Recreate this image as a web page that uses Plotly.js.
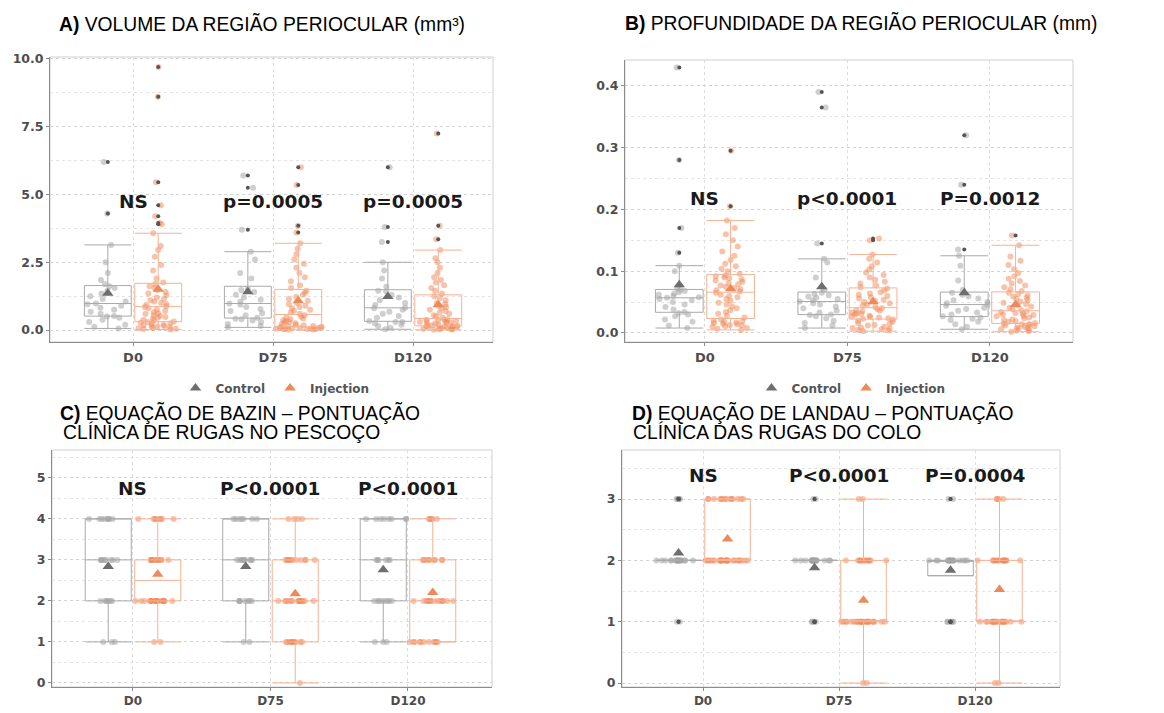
<!DOCTYPE html>
<html><head><meta charset="utf-8">
<script src="https://cdn.plot.ly/plotly-3.0.1.min.js"></script>
<style>html,body{margin:0;padding:0;background:#fff}</style>
</head><body><div id="chart" style="width:1164px;height:713px"></div>
<script>
const categories = ['D0','D75','D120'];
const groupNames = ['Control','Injection'];

// ---- Panel A: volume (mm³)
const volControlD0 = [0.06,0.12,0.2,0.3,0.38,0.45,0.5,0.52,0.6,0.68,0.75,0.82,0.9,0.95,0.98,1.05,1.15,1.25,1.35,1.45,1.55,1.62,1.7,1.85,2.1,2.5,3.14,4.3,6.2];
const volInjectionD0 = [0.02,0.04,0.05,0.07,0.08,0.1,0.12,0.14,0.15,0.18,0.2,0.22,0.25,0.27,0.3,
  0.32,0.35,0.38,0.42,0.45,0.48,0.52,0.55,0.6,0.62,0.66,0.7,0.75,0.8,0.85,
  0.88,0.92,0.95,1.0,1.05,1.1,1.15,1.2,1.28,1.35,1.4,1.48,1.55,1.62,1.7,
  1.75,1.9,2.2,2.4,2.7,2.95,3.1,3.57,3.9,3.95,4.2,4.6,5.45,8.6,9.7];
const volControlD75 = [0.1,0.15,0.22,0.3,0.35,0.4,0.42,0.45,0.55,0.62,0.7,0.78,0.85,0.93,0.98,1.05,1.12,1.2,1.3,1.4,1.48,1.52,1.9,2.1,2.6,2.89,3.7,5.25,5.7];
const volInjectionD75 = [0.01,0.02,0.03,0.03,0.04,0.05,0.05,0.06,0.07,0.08,0.08,0.09,0.1,0.1,0.11,
  0.13,0.15,0.18,0.2,0.22,0.25,0.28,0.3,0.33,0.36,0.4,0.43,0.47,0.5,0.55,
  0.6,0.65,0.7,0.75,0.8,0.85,0.9,0.95,1.0,1.08,1.15,1.22,1.3,1.38,1.45,
  1.55,1.65,1.8,1.95,2.1,2.3,2.45,2.6,2.8,3.0,3.2,3.6,3.85,5.35,6.0];
const volControlD120 = [0.03,0.08,0.15,0.2,0.25,0.3,0.3,0.33,0.45,0.52,0.6,0.68,0.75,0.8,0.82,0.92,1.0,1.1,1.2,1.3,1.42,1.45,1.6,1.9,2.2,2.5,3.25,3.8,6.0];
const volInjectionD120 = [0.01,0.02,0.03,0.04,0.05,0.06,0.07,0.08,0.09,0.1,0.11,0.12,0.13,0.14,0.15,
  0.16,0.18,0.2,0.22,0.24,0.26,0.28,0.3,0.32,0.34,0.35,0.36,0.37,0.38,0.4,
  0.45,0.5,0.55,0.6,0.65,0.7,0.75,0.8,0.85,0.9,0.95,1.0,1.1,1.18,1.25,
  1.35,1.45,1.55,1.65,1.75,1.85,1.95,2.1,2.3,2.5,2.65,2.95,3.35,3.85,7.25];

// ---- Panel B: depth (mm)
const depControlD0 = [0.008,0.012,0.018,0.022,0.027,0.03,0.032,0.034,0.038,0.042,0.046,0.05,0.053,0.055,0.057,0.058,0.06,0.062,0.064,0.066,0.068,0.07,0.072,0.1,0.109,0.13,0.17,0.28,0.43];
const depInjectionD0 = [0.005,0.007,0.008,0.01,0.011,0.012,0.013,0.014,0.015,0.016,0.017,0.018,0.019,0.02,0.022,
  0.025,0.028,0.031,0.034,0.037,0.04,0.043,0.046,0.049,0.052,0.055,0.058,0.06,0.062,0.065,
  0.067,0.069,0.071,0.073,0.075,0.077,0.079,0.081,0.083,0.085,0.087,0.089,0.09,0.092,0.093,
  0.096,0.1,0.104,0.108,0.112,0.118,0.125,0.132,0.14,0.15,0.16,0.17,0.182,0.205,0.295];
const depControlD75 = [0.008,0.012,0.016,0.02,0.024,0.027,0.029,0.03,0.033,0.036,0.04,0.043,0.046,0.048,0.051,0.053,0.055,0.057,0.059,0.061,0.063,0.065,0.07,0.09,0.114,0.12,0.145,0.365,0.39];
const depInjectionD75 = [0.003,0.004,0.005,0.006,0.007,0.008,0.009,0.01,0.012,0.013,0.015,0.016,0.018,0.02,0.022,
  0.023,0.024,0.025,0.026,0.027,0.028,0.03,0.031,0.032,0.033,0.035,0.036,0.037,0.039,0.04,
  0.042,0.044,0.046,0.048,0.05,0.052,0.054,0.056,0.058,0.06,0.062,0.064,0.066,0.069,0.072,
  0.074,0.077,0.08,0.083,0.086,0.09,0.094,0.098,0.103,0.108,0.114,0.12,0.127,0.15,0.153];
const depControlD120 = [0.006,0.01,0.014,0.018,0.021,0.023,0.025,0.027,0.03,0.033,0.036,0.039,0.041,0.044,0.046,0.048,0.05,0.053,0.056,0.059,0.062,0.065,0.07,0.085,0.109,0.125,0.135,0.24,0.32];
const depInjectionD120 = [0.002,0.003,0.004,0.005,0.006,0.007,0.008,0.009,0.01,0.011,0.012,0.013,0.014,0.014,0.015,
  0.016,0.018,0.019,0.021,0.022,0.024,0.025,0.027,0.028,0.029,0.03,0.031,0.032,0.034,0.035,
  0.037,0.039,0.041,0.043,0.045,0.047,0.049,0.051,0.053,0.055,0.057,0.059,0.061,0.063,0.065,
  0.068,0.071,0.074,0.077,0.08,0.084,0.088,0.092,0.097,0.103,0.11,0.117,0.124,0.142,0.158];

// ---- Panel C: Bazin neck wrinkle score
const bazControlD0 = [1,1,1,2,2,2,2,2,2,3,3,3,3,3,3,3,3,4,4,4,4,4,4,4,4];
const bazInjectionD0 = [1,1,2,2,2,2,2,2,2,2,2,2,2,2,2,2,2,2,2,2,3,3,3,3,3,3,3,3,3,3,3,3,4,4,4,4,4,4,4,4];
const bazControlD75 = [1,1,2,2,2,2,2,2,2,3,3,3,3,3,3,3,3,3,4,4,4,4,4,4,4];
const bazInjectionD75 = [0,1,1,1,1,1,1,1,1,1,1,2,2,2,2,2,2,2,2,2,2,2,2,2,2,3,3,3,3,3,3,3,3,3,3,3,4,4,4,4];
const bazControlD120 = [1,1,1,2,2,2,2,2,2,2,2,3,3,3,3,3,3,4,4,4,4,4,4,4,4];
const bazInjectionD120 = [1,1,1,1,1,1,1,1,1,1,1,2,2,2,2,2,2,2,2,2,2,2,2,2,2,3,3,3,3,3,3,3,3,3,4,4,4,4,4];

// ---- Panel D: Landau décolleté wrinkle score
const lanControlD0 = [1,1,2,2,2,2,2,2,2,2,2,2,2,2,2,2,2,2,2,2,3,3,3,3,3];
const lanInjectionD0 = [2,2,2,2,2,2,2,2,2,2,2,2,2,2,2,2,2,2,2,2,2,2,2,2,2,2,3,3,3,3,3,3,3,3,3,3,3,3,3,3];
const lanControlD75 = [1,1,1,1,1,2,2,2,2,2,2,2,2,2,2,2,2,2,2,2,2,2,2,3,3];
const lanInjectionD75 = [0,0,1,1,1,1,1,1,1,1,1,1,1,1,1,1,1,1,1,1,1,1,1,1,1,1,2,2,2,2,2,2,2,2,2,2,2,2,3,3];
const lanControlD120 = [1,1,1,1,1,1,2,2,2,2,2,2,2,2,2,2,2,2,2,2,2,2,2,3,3];
const lanInjectionD120 = [0,0,1,1,1,1,1,1,1,1,1,1,1,1,1,1,1,1,1,1,1,2,2,2,2,2,2,2,2,2,2,2,2,2,2,2,3,3,3,3];

// ---- labels
const pLabelsA = ['NS','p=0.0005','p=0.0005'];
const pLabelsB = ['NS','p<0.0001','P=0.0012'];
const pLabelsC = ['NS','P<0.0001','P<0.0001'];
const pLabelsD = ['NS','P<0.0001','P=0.0004'];
const titleA = ['<b>A)</b> VOLUME DA REGIÃO PERIOCULAR (mm³)'];
const titleB = ['<b>B)</b> PROFUNDIDADE DA REGIÃO PERIOCULAR (mm)'];
const titleC = ['<b>C)</b> EQUAÇÃO DE BAZIN – PONTUAÇÃO', 'CLÍNICA DE RUGAS NO PESCOÇO'];
const titleD = ['<b>D)</b> EQUAÇÃO DE LANDAU – PONTUAÇÃO', 'CLÍNICA DAS RUGAS DO COLO'];

// ---- styles
const ctrlPoint = 'rgba(160,160,160,0.5)';
const injPoint = 'rgba(242,135,88,0.5)';
const ctrlLine = '#a9a9a9';
const injLine = '#f5b294';
const ctrlMean = '#6e6e6e';
const injMean = '#ec8a5c';

function flat(arrs){
  const x=[], y=[];
  arrs.forEach((a,i)=>a.forEach(v=>{x.push(categories[i]); y.push(v);}));
  return {x,y};
}
const mean = a => a.reduce((s,v)=>s+v,0)/a.length;

const traces = [];
function panel(sfx, ctrl, inj, legendId){
  const xa = 'x'+sfx, ya = 'y'+sfx;
  const c = flat(ctrl), j = flat(inj);
  [[c,'c',ctrlPoint,0],[j,'i',injPoint,1]].forEach(([d,g,pc,k])=>{
    traces.push({type:'box', x:d.x, y:d.y, xaxis:xa, yaxis:ya, name:groupNames[k], offsetgroup:g,
      boxpoints:'all', jitter:1, pointpos:0, line:{width:0}, fillcolor:'rgba(0,0,0,0)',
      marker:{color:pc, size:6}, showlegend:false, hoverinfo:'y'});
  });
  [[c,'c',ctrlLine,0],[j,'i',injLine,1]].forEach(([d,g,lc,k])=>{
    traces.push({type:'box', x:d.x, y:d.y, xaxis:xa, yaxis:ya, name:groupNames[k], offsetgroup:g,
      boxpoints:'outliers', line:{color:lc, width:1}, fillcolor:'rgba(255,255,255,0)', whiskerwidth:1,
      marker:{color:'#555555', size:4}, showlegend:false, hoverinfo:'y'});
  });
  [[ctrl,'c',ctrlMean,0],[inj,'i',injMean,1]].forEach(([arrs,g,col,k])=>{
    const t = {type:'scatter', mode:'markers', x:categories, y:arrs.map(mean), xaxis:xa, yaxis:ya,
      name:groupNames[k], offsetgroup:g, marker:{symbol:'triangle-up', size:10, color:col},
      showlegend:!!legendId};
    if(legendId) t.legend = legendId;
    traces.push(t);
  });
}
panel('', [volControlD0,volControlD75,volControlD120],[volInjectionD0,volInjectionD75,volInjectionD120],'legend');
panel('2',[depControlD0,depControlD75,depControlD120],[depInjectionD0,depInjectionD75,depInjectionD120],'legend2');
panel('3',[bazControlD0,bazControlD75,bazControlD120],[bazInjectionD0,bazInjectionD75,bazInjectionD120],null);
panel('4',[lanControlD0,lanControlD75,lanControlD120],[lanInjectionD0,lanInjectionD75,lanInjectionD120],null);

const tickFont = {family:'DejaVu Sans', size:12.5, color:'#4d4d4d', weight:'bold'};
function xax(domain, range, anchor, fs){
  return {domain, range, anchor, type:'category', categoryorder:'array', categoryarray:categories,
    showgrid:true, gridcolor:'#dcdcdc', griddash:'dot', showline:true, linecolor:'#8c8c8c', linewidth:1,
    ticks:'outside', ticklen:3, tickcolor:'#8c8c8c', tickfont:{family:'DejaVu Sans', size:fs, color:'#4d4d4d', weight:'bold'},
    zeroline:false, fixedrange:true};
}
function yax(domain, range, dtick, minor, fmt, anchor){
  return {domain, range, anchor, dtick, tick0:0, tickformat:fmt, showgrid:true, gridcolor:'#d4d4d4', griddash:'dot',
    minor:{dtick:minor, showgrid:true, gridcolor:'#e4e4e4', griddash:'dot'},
    showline:true, linecolor:'#8c8c8c', linewidth:1, ticks:'outside', ticklen:3, tickcolor:'#8c8c8c',
    tickfont:tickFont, zeroline:false, fixedrange:true};
}

const annotations = [];
function pAnn(labels, xref, yref, yval){
  labels.forEach((t,i)=>annotations.push({text:t, x:categories[i], y:yval, xref, yref, showarrow:false,
    font:{family:'DejaVu Sans', size:18.5, color:'#1a1a1a', weight:'bold'}}));
}
pAnn(pLabelsA,'x','y',4.75);
pAnn(pLabelsB,'x2','y2',0.218);
pAnn(pLabelsC,'x3','y3',4.75);
pAnn(pLabelsD,'x4','y4',3.38);
function tAnn(lines, xs, ys){
  lines.forEach((t,i)=>annotations.push({text:t, x:xs[i]/1164, y:1-ys[i]/713, xref:'paper', yref:'paper',
    xanchor:'left', yanchor:'middle', showarrow:false, font:{family:'Liberation Sans', size:19.3, color:'#000'}}));
}
tAnn(titleA,[57],[24]);
tAnn(titleB,[623],[23]);
tAnn(titleC,[58,61],[413,432]);
tAnn(titleD,[630,631],[413,432]);

const shapes = ['','2','3','4'].map(s=>({type:'rect', xref:'x'+s+' domain', yref:'y'+s+' domain', x0:0,x1:1,y0:0,y1:1,
  line:{color:'#cfcfcf', width:1}, layer:'below'}));

const legendStyle = {orientation:'h', xanchor:'center', yanchor:'middle', y:1-388/713,
  font:{family:'DejaVu Sans', size:12, color:'#555', weight:'bold'}, bgcolor:'rgba(0,0,0,0)', itemwidth:30, tracegroupgap:0};

const layout = {
  width:1164, height:713, margin:{l:0,r:0,t:0,b:0}, paper_bgcolor:'#fff', plot_bgcolor:'#fff',
  boxmode:'group', boxgap:0.28, boxgroupgap:0.07, scattermode:'group', scattergap:0.28,
  xaxis: xax([50/1164, 493/1164], [-0.593, 2.571], 'y', 13),
  yaxis: yax([1-342/713, 1-57/713], [-0.44, 10.07], 2.5, 1.25, '.1f', 'x'),
  xaxis2: xax([625/1164, 1073/1164], [-0.561, 2.583], 'y2', 13),
  yaxis2: yax([1-342/713, 1-60/713], [-0.0146, 0.442], 0.1, 0.05, '.1f', 'x2'),
  xaxis3: xax([52/1164, 492/1164], [-0.589, 2.611], 'y3', 12),
  yaxis3: yax([1-687/713, 1-450/713], [-0.1, 5.68], 1, 0.5, 'd', 'x3'),
  xaxis4: xax([622/1164, 1060/1164], [-0.596, 2.625], 'y4', 12),
  yaxis4: yax([1-687/713, 1-450/713], [-0.065, 3.8], 1, 0.5, 'd', 'x4'),
  legend: Object.assign({x:275/1164}, legendStyle),
  legend2: Object.assign({x:851/1164}, legendStyle),
  annotations, shapes, showlegend:true
};
Plotly.newPlot('chart', traces, layout, {displayModeBar:false, staticPlot:true});
</script></body></html>
